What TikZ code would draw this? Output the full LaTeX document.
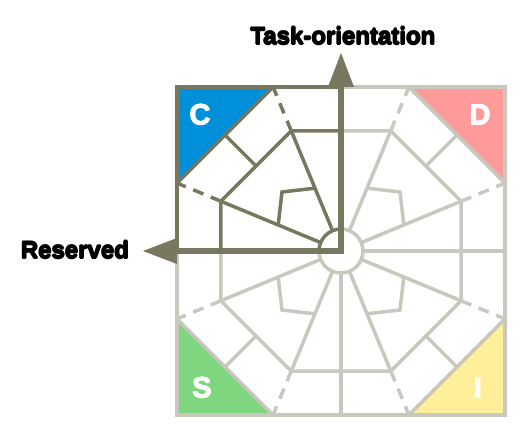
\documentclass[tikz,border=0pt]{standalone}
\usepackage{fontspec}
\setmainfont{Liberation Sans}
\usetikzlibrary{arrows.meta}

\definecolor{darkline}{RGB}{120,120,96}
\definecolor{lightline}{RGB}{200,200,190}
\definecolor{cblue}{RGB}{0,144,218}
\definecolor{dpink}{RGB}{255,154,154}
\definecolor{sgreen}{RGB}{126,214,126}
\definecolor{iyellow}{RGB}{255,239,154}

% heavier text by overprinting shifted copies
\newcommand{\heavytext}[2]{%
  \rlap{\kern#1#2}\rlap{\kern2\dimexpr#1\relax#2}%
  \rlap{\kern#1\raisebox{#1}{#2}}\rlap{\kern#1\raisebox{-#1}{#2}}#2\kern2\dimexpr#1\relax}

\tikzset{
  gridline/.style={line width=3.5pt},
  dashpart/.style={line width=3.5pt, dash pattern=on 11pt off 8pt},
  edgeline/.style={line width=4.5pt},
  letter/.style={white, font=\bfseries\fontsize{29}{29}\selectfont},
  axislabel/.style={black, font=\bfseries\fontsize{24}{24}\selectfont}
}

% one quarter of the wheel, from 0 to 90 degrees
\newcommand{\octquarter}{
  \draw[gridline] (22,0) arc (0:90:22);
  \draw[gridline] (22.5:22) -- (22.5:130);
  \draw[gridline] (67.5:22) -- (67.5:130);
  \draw[dashpart] (22.5:130) -- (22.5:178.6);
  \draw[dashpart] (67.5:130) -- (67.5:178.6);
  \draw[gridline] (22.5:130) -- (67.5:130);
  \draw[gridline] (45:120.1) -- (45:164);
  \draw[gridline] (67.5:68) -- (59,59) -- (22.5:68);
  \draw[gridline] (22.5:130) -- (120.1,0);
  \draw[gridline] (67.5:130) -- (0,120.1);
  \draw[gridline] (67.93,164) -- (164,67.93);
  \draw[edgeline] (164,0) -- (164,164) -- (0,164);
}

\begin{document}
\begin{tikzpicture}[x=1pt,y=1pt]
\useasboundingbox (-341,-193) rectangle (189,251);

% corner triangles
\foreach \ang/\col in {0/dpink,90/cblue,180/sgreen,270/iyellow}
  \fill[\col, rotate=\ang] (67.93,164) -- (164,164) -- (164,67.93) -- cycle;

\fill[white] (0,0) circle (22);

% light quarters
\foreach \ang in {0,180,270} {
  \begin{scope}[rotate=\ang, lightline]
    \octquarter
  \end{scope}
}
\draw[gridline, lightline] (22,0) -- (164,0);
\draw[gridline, lightline] (0,-22) -- (0,-164);

% reserved / task-oriented quarter
\begin{scope}[rotate=90, darkline]
  \octquarter
\end{scope}

\draw[darkline, line width=6.5pt,
  {Triangle[width=24pt,length=35pt]}-{Triangle[width=24pt,length=35pt]}]
  (-199,0) -- (0,0) -- (0,199);

\node[letter] (c) at (-141,136) {\heavytext{0.5pt}{C}};
\node[letter] (d) at (139,136) {\heavytext{0.5pt}{D}};
\node[letter] (s) at (-139,-137) {\heavytext{0.5pt}{S}};
\node[letter] (i) at (137,-137) {\heavytext{0.5pt}{I}};

\node[axislabel] (task) at (2,215) {\heavytext{0.7pt}{Task-orientation}};
\node[axislabel] (reserved) at (-266,1) {\heavytext{0.7pt}{Reserved}};
\end{tikzpicture}
\end{document}
